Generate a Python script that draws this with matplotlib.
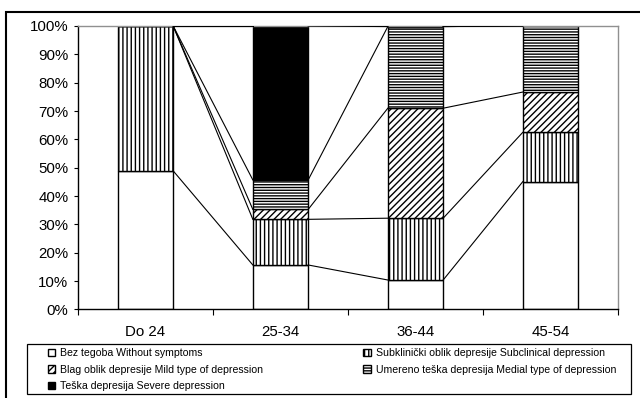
import matplotlib
matplotlib.use("Agg")
import matplotlib.pyplot as plt
from matplotlib.patches import Patch, Rectangle
from matplotlib.ticker import FixedLocator, PercentFormatter
import numpy as np

plt.rcParams["font.family"] = ["Liberation Sans", "DejaVu Sans"]
plt.rcParams["hatch.color"] = "#6e6e6e"
plt.rcParams["hatch.linewidth"] = 1.0

# Starosne grupe i udeo ispitanika po stepenu depresije (%)
grupe = ["Do 24", "25-34", "36-44", "45-54"]
bez_tegoba = [48.9, 15.7, 10.4, 45.1]
subklinicki = [51.1, 16.1, 21.8, 17.4]
blag = [0.0, 3.5, 38.8, 14.2]
umereno = [0.0, 10.4, 28.8, 23.3]
teska = [0.0, 54.3, 0.0, 0.0]

serije = [
    ("Bez tegoba Without symptoms", bez_tegoba, "white", ""),
    ("Subklinički oblik depresije Subclinical depression", subklinicki, "white", "||||"),
    ("Blag oblik depresije Mild type of depression", blag, "white", "/////"),
    ("Umereno teška depresija Medial type of depression", umereno, "white", "------"),
    ("Teška depresija Severe depression", teska, "black", ""),
]

SIRINA = 0.41

fig = plt.figure(figsize=(6.4, 3.98), dpi=100)
ax = fig.add_axes([0.1219, 0.2224, 0.8437, 0.7123])

x = np.arange(len(grupe))
dno = np.zeros(len(grupe))
vrhovi = []
rucke = {}
for naziv, vrednosti, boja, sraf in serije:
    v = np.array(vrednosti)
    ax.bar(x, v, SIRINA, bottom=dno, color=boja, hatch=sraf,
           edgecolor="black", linewidth=1.0, zorder=2)
    rucke[naziv] = Patch(facecolor=boja, hatch=sraf, edgecolor="black", linewidth=1.0)
    dno = dno + v
    vrhovi.append(dno.copy())

# linije serija izmedju susednih stubaca
for vrh in vrhovi:
    for i in range(len(grupe) - 1):
        ax.plot([x[i] + SIRINA / 2, x[i + 1] - SIRINA / 2], [vrh[i], vrh[i + 1]],
                color="black", linewidth=0.8, zorder=3)

ax.set_xlim(-0.5, len(grupe) - 0.5)
ax.set_ylim(0, 100)
ax.yaxis.set_major_locator(FixedLocator(np.arange(0, 101, 10)))
ax.yaxis.set_major_formatter(PercentFormatter(decimals=0))
ax.set_xticks(x)
ax.set_xticklabels(grupe)
ax.xaxis.set_minor_locator(FixedLocator(np.arange(-0.5, len(grupe), 1.0)))
ax.tick_params(axis="x", which="major", length=0, labelsize=10.8, pad=11)
ax.tick_params(axis="x", which="minor", length=4, width=0.8, direction="out")
ax.tick_params(axis="y", length=3, width=0.8, labelsize=10.8, pad=4)

for s in ("left", "bottom"):
    ax.spines[s].set_color("black")
    ax.spines[s].set_linewidth(1.0)
for s in ("top", "right"):
    ax.spines[s].set_color("#909090")
    ax.spines[s].set_linewidth(1.0)

# legenda: dve kolone, popunjavanje po redovima
redosled = [0, 2, 4, 1, 3]
fig.legend([rucke[serije[i][0]] for i in redosled],
           [serije[i][0] for i in redosled],
           ncol=2, loc="upper left", bbox_to_anchor=(0.075, 0.125),
           frameon=False, fontsize=7.6, handlelength=0.7, handleheight=0.7,
           handletextpad=0.45, columnspacing=9.5, labelspacing=0.6,
           borderaxespad=0, borderpad=0)

fig.add_artist(Rectangle((27 / 640, 4 / 398), 604 / 640, 50 / 398,
                         transform=fig.transFigure, fill=False,
                         edgecolor="black", linewidth=0.9))
# okvir oko celog grafikona
fig.add_artist(Rectangle((6 / 640, -0.1), 1.2, 1.085 - 6 / 398,
                         transform=fig.transFigure, fill=False,
                         edgecolor="black", linewidth=1.5))

fig.savefig("out.png", dpi=100)
